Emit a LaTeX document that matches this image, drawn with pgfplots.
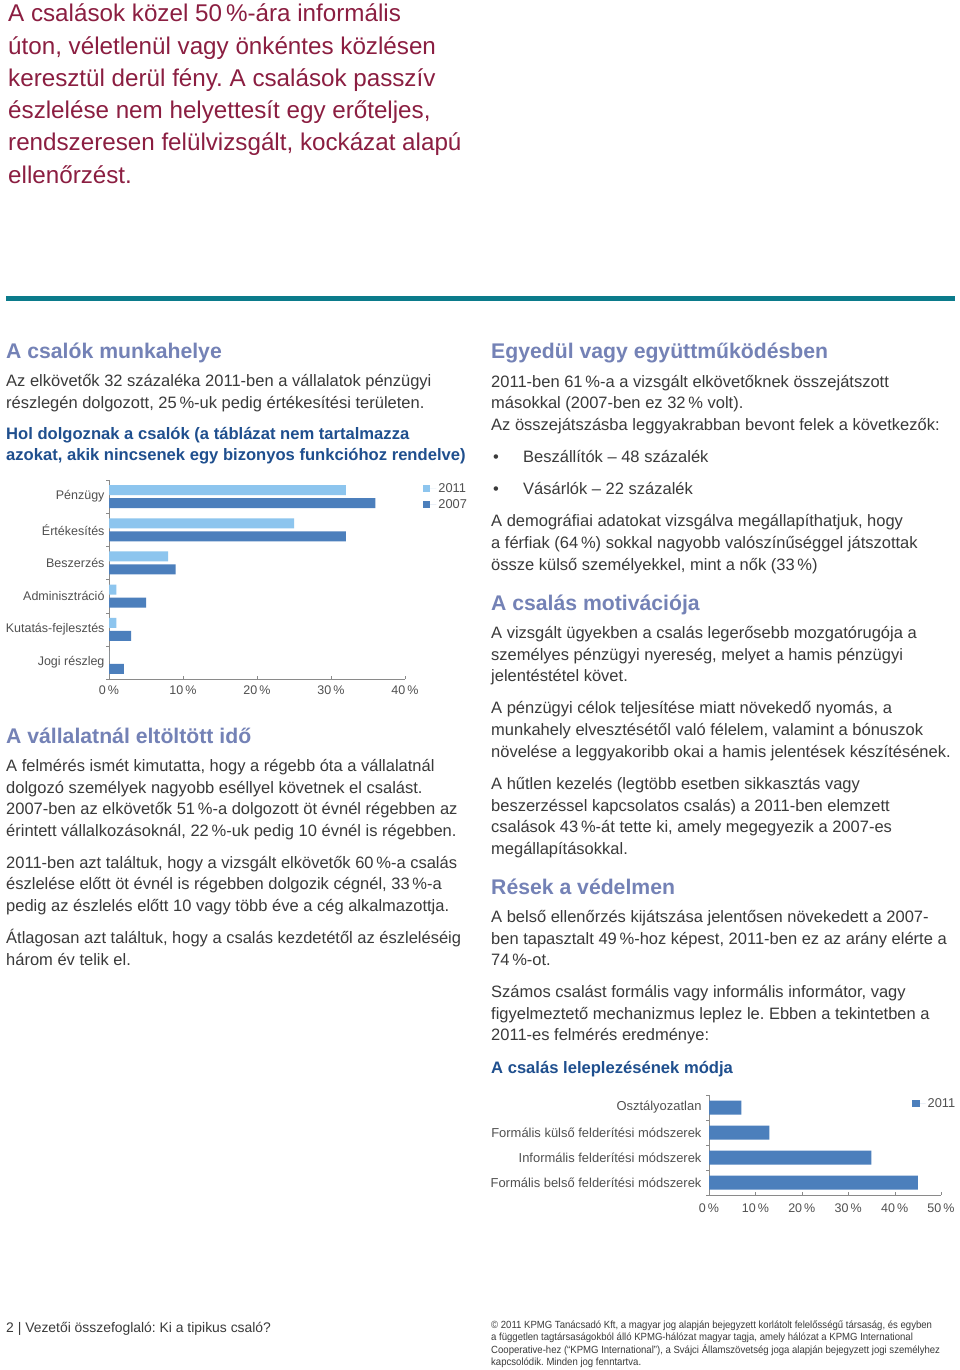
\documentclass[border=0pt]{standalone}
\usepackage{fontspec}
\setmainfont{Liberation Sans}
\newfontfamily\smallfont[FakeStretch=0.92]{Liberation Sans}
\usepackage{pgfplots}
\pgfplotsset{compat=1.18}
\frenchspacing
\definecolor{titlered}{HTML}{8B1E41}
\definecolor{headblue}{HTML}{7482B6}
\definecolor{charttitle}{HTML}{1F4F8E}
\definecolor{tealrule}{HTML}{0B7B8B}
\definecolor{bodytext}{HTML}{3A3A3A}
\definecolor{barlight}{HTML}{8DC5EE}
\definecolor{bardark}{HTML}{4C7FBC}
\definecolor{axisgrey}{HTML}{8A8A8A}
\definecolor{labelgrey}{HTML}{505050}
\newcommand{\Ln}[3]{\node[anchor=base west,inner sep=0pt] at (#1,#2) {#3};}
\pgfplotsset{
  pagechart/.style={
    scale only axis, xbar, xmin=0,
    axis lines*=left, axis line style={axisgrey,-},
    major tick length=0pt, minor tick length=3pt, tick align=outside,
    minor tick style={axisgrey},
    minor x tick style={yshift=3pt},
    tick label style={font=\fontsize{12.5}{14}\selectfont, text=labelgrey},
    xticklabel={\pgfmathprintnumber{\tick}\,\%},
    /pgf/number format/assume math mode=true,
    legend style={draw=none, fill=none, inner sep=0pt, row sep=2pt,
      font=\fontsize{12.8}{14}\selectfont, text=labelgrey},
    legend cell align=left,
    legend image code/.code={\path (0pt,0pt) -- (13.5pt,0pt);\fill[##1] (0pt,-3.5pt) rectangle (7.5pt,3.5pt);},
  }
}
\begin{document}
\frenchspacing
\begin{tikzpicture}
\path[use as bounding box, fill=white] (0pt,0pt) rectangle (960pt,-1370pt);
\begin{scope}[x=1pt,y=-1pt]
% title
\begin{scope}[every node/.style={text=titlered, font=\fontsize{24.2}{32}\selectfont}]
\Ln{8}{22}{A csalások közel 50\,\%-ára informális}
\Ln{8}{54.2}{úton, véletlenül vagy önkéntes közlésen}
\Ln{8}{86.4}{keresztül derül fény. A csalások passzív}
\Ln{8}{118.6}{észlelése nem helyettesít egy erőteljes,}
\Ln{8}{150.8}{rendszeresen felülvizsgált, kockázat alapú}
\Ln{8}{183}{ellenőrzést.}
\end{scope}
\fill[tealrule] (6,296) rectangle (955,301);
% headings
\begin{scope}[every node/.style={text=headblue, font=\fontsize{21.2}{24}\selectfont\bfseries}]
\Ln{6}{358}{A csalók munkahelye}
\Ln{6}{743}{A vállalatnál eltöltött idő}
\Ln{491}{358}{Egyedül vagy együttműködésben}
\Ln{491}{610}{A csalás motivációja}
\Ln{491}{894}{Rések a védelmen}
\end{scope}
\begin{scope}[every node/.style={text=charttitle, font=\fontsize{16.6}{20}\selectfont\bfseries}]
\Ln{6}{439.5}{Hol dolgoznak a csalók (a táblázat nem tartalmazza}
\Ln{6}{460.5}{azokat, akik nincsenek egy bizonyos funkcióhoz rendelve)}
\Ln{491}{1073.5}{A csalás leleplezésének módja}
\end{scope}
\begin{scope}[every node/.style={text=bodytext, font=\fontsize{16.5}{20}\selectfont}]
\Ln{6}{386.5}{Az elkövetők 32 százaléka 2011-ben a vállalatok pénzügyi}
\Ln{6}{408.5}{részlegén dolgozott, 25\,\%-uk pedig értékesítési területen.}
\Ln{6}{771.5}{A felmérés ismét kimutatta, hogy a régebb óta a vállalatnál}
\Ln{6}{793}{dolgozó személyek nagyobb eséllyel követnek el csalást.}
\Ln{6}{814.5}{2007-ben az elkövetők 51\,\%-a dolgozott öt évnél régebben az}
\Ln{6}{836}{érintett vállalkozásoknál, 22\,\%-uk pedig 10 évnél is régebben.}
\Ln{6}{868}{2011-ben azt találtuk, hogy a vizsgált elkövetők 60\,\%-a csalás}
\Ln{6}{889.5}{észlelése előtt öt évnél is régebben dolgozik cégnél, 33\,\%-a}
\Ln{6}{911}{pedig az észlelés előtt 10 vagy több éve a cég alkalmazottja.}
\Ln{6}{943.5}{Átlagosan azt találtuk, hogy a csalás kezdetétől az észleléséig}
\Ln{6}{965}{három év telik el.}
% right column
\Ln{491}{387}{2011-ben 61\,\%-a a vizsgált elkövetőknek összejátszott}
\Ln{491}{408.5}{másokkal (2007-ben ez 32\,\% volt).}
\Ln{491}{430}{Az összejátszásba leggyakrabban bevont felek a következők:}
\Ln{493}{462.5}{•}
\Ln{523}{462.5}{Beszállítók – 48 százalék}
\Ln{493}{494.5}{•}
\Ln{523}{494.5}{Vásárlók – 22 százalék}
\Ln{491}{526.5}{A demográfiai adatokat vizsgálva megállapíthatjuk, hogy}
\Ln{491}{548.5}{a férfiak (64\,\%) sokkal nagyobb valószínűséggel játszottak}
\Ln{491}{570}{össze külső személyekkel, mint a nők (33\,\%)}
\Ln{491}{638.5}{A vizsgált ügyekben a csalás legerősebb mozgatórugója a}
\Ln{491}{660}{személyes pénzügyi nyereség, melyet a hamis pénzügyi}
\Ln{491}{681.5}{jelentéstétel követ.}
\Ln{491}{713.5}{A pénzügyi célok teljesítése miatt növekedő nyomás, a}
\Ln{491}{735.5}{munkahely elvesztésétől való félelem, valamint a bónuszok}
\Ln{491}{757}{növelése a leggyakoribb okai a hamis jelentések készítésének.}
\Ln{491}{789.5}{A hűtlen kezelés (legtöbb esetben sikkasztás vagy}
\Ln{491}{811}{beszerzéssel kapcsolatos csalás) a 2011-ben elemzett}
\Ln{491}{832.5}{csalások 43\,\%-át tette ki, amely megegyezik a 2007-es}
\Ln{491}{854}{megállapításokkal.}
\Ln{491}{922.5}{A belső ellenőrzés kijátszása jelentősen növekedett a 2007-}
\Ln{491}{944}{ben tapasztalt 49\,\%-hoz képest, 2011-ben ez az arány elérte a}
\Ln{491}{965.5}{74\,\%-ot.}
\Ln{491}{997.5}{Számos csalást formális vagy informális informátor, vagy}
\Ln{491}{1019}{figyelmeztető mechanizmus leplez le. Ebben a tekintetben a}
\Ln{491}{1040.5}{2011-es felmérés eredménye:}
\end{scope}
% footer
\node[anchor=base west,inner sep=0pt,text=bodytext,font=\fontsize{13.9}{16}\selectfont] at (6,1332) {2 | Vezetői összefoglaló: Ki a tipikus csaló?};
\begin{scope}[every node/.style={text=bodytext, font=\smallfont\fontsize{10.4}{12}\selectfont}]
\Ln{491}{1328.5}{© 2011 KPMG Tanácsadó Kft, a magyar jog alapján bejegyzett korlátolt felelősségű társaság, és egyben}
\Ln{491}{1340.8}{a független tagtársaságokból álló KPMG-hálózat magyar tagja, amely hálózat a KPMG International}
\Ln{491}{1353.1}{Cooperative-hez (“KPMG International”), a Svájci Államszövetség joga alapján bejegyzett jogi személyhez}
\Ln{491}{1365.4}{kapcsolódik. Minden jog fenntartva.}
\end{scope}
\end{scope}

% chart 1
\begin{axis}[pagechart,
  at={(109pt,-679pt)}, anchor=south west,
  width=296pt, height=199pt,
  bar width=10pt,
  xmax=40, ymin=-0.5, ymax=5.5,
  xtick={0,10,20,30,40}, minor xtick={10,20,30,40},
  ytick={0,1,2,3,4,5},
  yticklabels={Jogi részleg, Kutatás-fejlesztés, Adminisztráció, Beszerzés, Értékesítés, Pénzügy},
  minor ytick={-0.5,0.5,1.5,2.5,3.5,4.5,5.5},
  xticklabel style={yshift=-3pt},
  yticklabel style={xshift=-1pt},
  legend style={at={(1.06,0.995)}, anchor=north west},
]
\addplot[fill=barlight, draw=none, bar shift=6.5pt] coordinates {(32,5) (25,4) (8,3) (1,2) (1,1) (0,0)};
\addplot[fill=bardark, draw=none, bar shift=-6.5pt] coordinates {(36,5) (32,4) (9,3) (5,2) (3,1) (2,0)};
\legend{2011,2007}
\end{axis}

% chart 2
\begin{axis}[pagechart,
  at={(709pt,-1195pt)}, anchor=south west,
  width=232pt, height=100pt,
  bar width=14pt,
  xmax=50, ymin=-0.5, ymax=3.5,
  xtick={0,10,20,30,40,50}, minor xtick={10,20,30,40,50},
  ytick={0,1,2,3},
  yticklabels={Formális belső felderítési módszerek, Informális felderítési módszerek, Formális külső felderítési módszerek, Osztályozatlan},
  minor ytick={-0.5,0.5,1.5,2.5,3.5},
  xticklabel style={yshift=-5pt},
  yticklabel style={xshift=-4pt, font=\fontsize{12.95}{14}\selectfont},
  legend style={at={(0.875,0.99)}, anchor=north west},
]
\addplot[fill=bardark, draw=none, bar shift=0pt] coordinates {(45,0) (35,1) (13,2) (7,3)};
\legend{2011}
\end{axis}
\end{tikzpicture}
\end{document}
